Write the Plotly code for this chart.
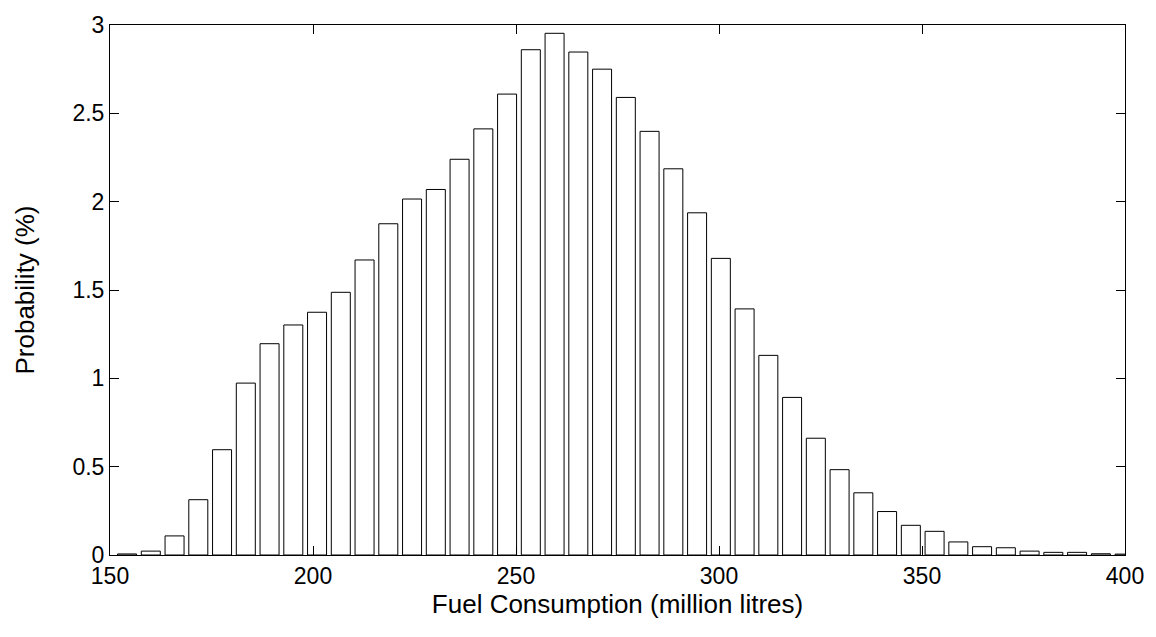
import plotly.graph_objects as go

# Bin centres (million litres) and probabilities (%)
bin_centres = [154.2, 160.05, 165.9, 171.75, 177.6, 183.45, 189.3, 195.15, 201.0, 206.85,
               212.7, 218.55, 224.4, 230.25, 236.1, 241.95, 247.8, 253.65, 259.5, 265.35,
               271.2, 277.05, 282.9, 288.75, 294.6, 300.45, 306.3, 312.15, 318.0, 323.85,
               329.7, 335.55, 341.4, 347.25, 353.1, 358.95, 364.8, 370.65, 376.5, 382.35,
               388.2, 394.05, 399.9]
probability = [0.006, 0.022, 0.108, 0.313, 0.596, 0.973, 1.196, 1.302, 1.374, 1.487,
               1.670, 1.875, 2.015, 2.069, 2.240, 2.412, 2.609, 2.860, 2.953, 2.847,
               2.750, 2.590, 2.398, 2.186, 1.937, 1.679, 1.393, 1.130, 0.892, 0.661,
               0.483, 0.352, 0.246, 0.168, 0.134, 0.074, 0.047, 0.041, 0.022, 0.015,
               0.015, 0.007, 0.005]
bin_width = 5.85

x_ticks = [150, 200, 250, 300, 350, 400]
y_ticks = [0, 0.5, 1, 1.5, 2, 2.5, 3]
y_tick_labels = ["0", "0.5", "1", "1.5", "2", "2.5", "3"]

FONT = "Liberation Sans, Arial, sans-serif"

fig = go.Figure(go.Bar(
    x=bin_centres,
    y=probability,
    width=[0.8 * bin_width] * len(bin_centres),
    marker=dict(color="white", line=dict(color="black", width=1)),
    hoverinfo="x+y",
))

axis_common = dict(
    showline=True, linecolor="black", linewidth=1, mirror="ticks",
    ticks="inside", ticklen=9, tickwidth=1, tickcolor="black",
    showgrid=False, zeroline=False,
    tickfont=dict(family=FONT, size=23, color="black"),
)

fig.update_layout(
    width=1156, height=637,
    margin=dict(l=110, r=23, t=18, b=82),
    paper_bgcolor="white", plot_bgcolor="white",
    showlegend=False,
    xaxis=dict(range=[150, 400], tickvals=x_ticks,
               title=dict(text="Fuel Consumption (million litres)",
                          font=dict(family=FONT, size=26, color="black"), standoff=6),
               **axis_common),
    yaxis=dict(range=[0, 3], tickvals=y_ticks, ticktext=y_tick_labels,
               title=dict(text="Probability (%)",
                          font=dict(family=FONT, size=26, color="black"), standoff=30),
               **axis_common),
)

fig.write_html("out.html")
